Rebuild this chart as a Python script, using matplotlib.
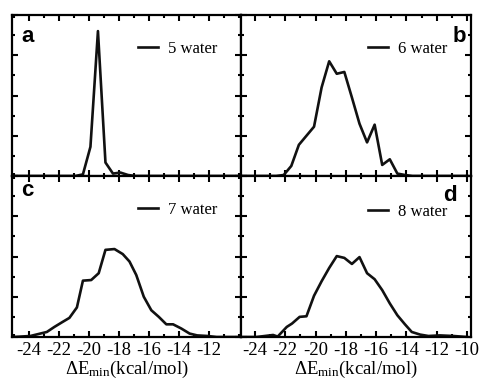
import numpy as np
import matplotlib
matplotlib.use("Agg")
import matplotlib.pyplot as plt
from matplotlib.ticker import MultipleLocator, FixedLocator

plt.rcParams['font.family'] = ['Liberation Serif', 'DejaVu Serif']
plt.rcParams['mathtext.fontset'] = 'custom'
plt.rcParams['mathtext.rm'] = 'Liberation Serif'
plt.rcParams['mathtext.it'] = 'Liberation Serif:italic'
plt.rcParams['axes.unicode_minus'] = False

# data (y in arbitrary units, 0..8)
x5 = [-25.0, -20.9, -20.4, -19.9, -19.4, -18.9, -18.4, -17.9, -17.4, -16.9, -10.0]
y5 = [0.0, 0.0, 0.08, 1.45, 7.2, 0.67, 0.12, 0.17, 0.05, 0.0, 0.0]

x6 = [-25.0, -22.6, -22.1, -21.6, -21.1, -20.6, -20.1, -19.6, -19.1, -18.6, -18.1,
      -17.6, -17.1, -16.6, -16.1, -15.6, -15.1, -14.6, -14.1, -13.6, -10.0]
y6 = [0.0, 0.0, 0.05, 0.5, 1.55, 2.0, 2.45, 4.4, 5.7, 5.08, 5.17,
      3.9, 2.6, 1.67, 2.55, 0.55, 0.83, 0.12, 0.05, 0.0, 0.0]

x7 = [-25.0, -23.9, -22.8, -22.3, -21.75, -21.3, -20.8, -20.4, -19.85, -19.35, -18.9,
      -18.3, -17.75, -17.3, -16.85, -16.35, -15.85, -15.35, -14.85, -14.4, -13.85,
      -13.3, -12.8, -12.1, -11.5, -10.0]
y7 = [0.0, 0.05, 0.25, 0.5, 0.75, 0.95, 1.47, 2.8, 2.83, 3.17, 4.33,
      4.37, 4.12, 3.75, 3.08, 2.0, 1.33, 1.0, 0.63, 0.63, 0.42,
      0.17, 0.08, 0.05, 0.0, 0.0]

x8 = [-25.0, -23.9, -22.8, -22.5, -21.9, -21.55, -21.05, -20.6, -20.1, -19.6, -19.1,
      -18.6, -18.1, -17.6, -17.1, -16.6, -16.1, -15.6, -15.1, -14.6, -14.1,
      -13.65, -13.1, -12.55, -11.8, -10.9, -10.0]
y8 = [0.0, 0.0, 0.1, 0.02, 0.5, 0.67, 1.0, 1.03, 2.05, 2.77, 3.43,
      4.02, 3.93, 3.63, 3.97, 3.17, 2.87, 2.33, 1.67, 1.08, 0.63,
      0.25, 0.12, 0.05, 0.08, 0.05, 0.0]

panels = [
    ("a", "5 water", x5, y5),
    ("b", "6 water", x6, y6),
    ("c", "7 water", x7, y7),
    ("d", "8 water", x8, y8),
]
left_ticks = [-24, -22, -20, -18, -16, -14, -12]
right_ticks = [-24, -22, -20, -18, -16, -14, -12, -10]

W, H = 487, 379
fig = plt.figure(figsize=(W / 100, H / 100), dpi=100)

# pixel boxes of each panel: left, top, right, bottom
boxes = [(12, 15, 241, 176), (241, 15, 471, 176),
         (12, 176, 241, 337), (241, 176, 471, 337)]
xlims = [(-25.12, -9.88), (-24.92, -9.74), (-25.12, -9.88), (-24.92, -9.74)]
# letter positions (axes fraction) and legend y
letter_pos = [(0.04, 0.835, 'left'), (0.978, 0.835, 'right'),
              (0.04, 0.875, 'left'), (0.94, 0.845, 'right')]
leg_y = [0.79, 0.79, 0.79, 0.775]

for i, (letter, lab, xs, ys) in enumerate(panels):
    l, t, r, b = boxes[i]
    ax = fig.add_axes([l / W, 1 - b / H, (r - l) / W, (b - t) / H])
    ax.plot(xs, ys, color='#111111', lw=1.9, label=lab)
    ax.set_xlim(*xlims[i])
    ax.set_ylim(0, 8)
    ax.xaxis.set_major_locator(FixedLocator(left_ticks if i % 2 == 0 else right_ticks))
    ax.xaxis.set_minor_locator(MultipleLocator(1))
    ax.yaxis.set_major_locator(MultipleLocator(2))
    ax.yaxis.set_minor_locator(MultipleLocator(1))
    ax.tick_params(which='both', direction='in', top=True, right=True,
                   width=1.5, labelsize=13.5, pad=3.5)
    ax.tick_params(which='major', length=4)
    ax.tick_params(which='minor', length=2.5)
    ax.set_yticklabels([])
    for s in ax.spines.values():
        s.set_linewidth(1.6)
    if i < 2:
        ax.set_xticklabels([])
    else:
        ax.set_xlabel(r'$\Delta$E$_{\rm min}$(kcal/mol)', fontsize=13.5, labelpad=0)
    lx, ly, ha = letter_pos[i]
    ax.text(lx, ly, letter, transform=ax.transAxes, ha=ha, va='baseline',
            fontsize=16, fontweight='bold', family=['Liberation Sans', 'DejaVu Sans'])
    ax.legend(loc='center right', bbox_to_anchor=(1 - 24 / (r - l), leg_y[i]),
              frameon=False, fontsize=12, handlelength=1.15, handletextpad=0.6,
              borderpad=0, borderaxespad=0)

fig.savefig("out.png", dpi=100)
